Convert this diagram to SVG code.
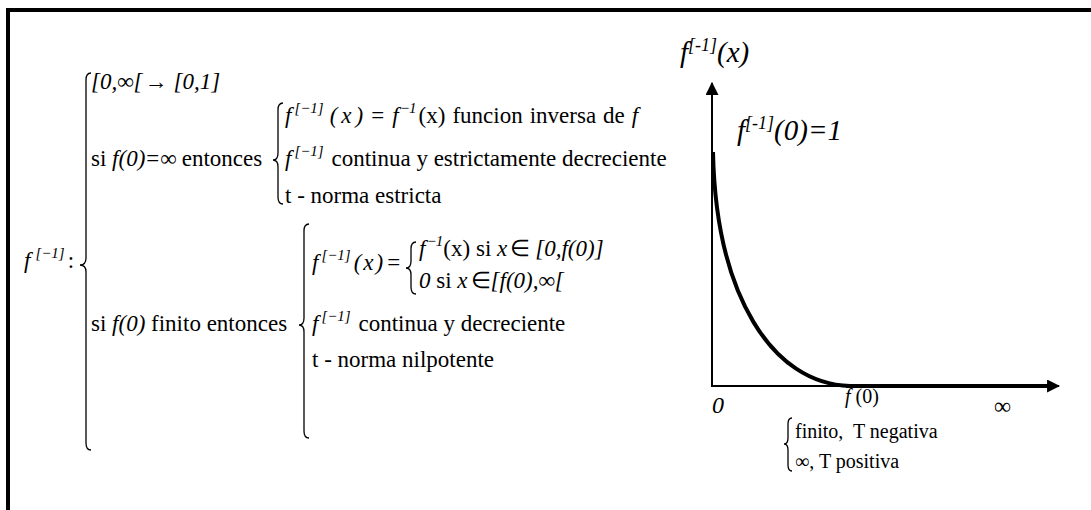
<svg xmlns="http://www.w3.org/2000/svg" width="1091" height="510" viewBox="0 0 1091 510">
<style>
text{font-family:"Liberation Serif","Times New Roman",serif;font-size:23px;fill:#000}
.i{font-style:italic}
.s{font-size:15px}
.br{fill:none;stroke:#000;stroke-width:1.3}
.ax{fill:none;stroke:#000;stroke-width:2}
.g{font-size:29px;font-style:italic}
.gs{font-size:18px}
.lb{font-size:20px}
</style>
<defs>
<marker id="ah" viewBox="0 0 12 12" refX="11" refY="6" markerWidth="13" markerHeight="13" markerUnits="userSpaceOnUse" orient="auto">
<path d="M0,0 L12,6 L0,12 Z" fill="#000"/>
</marker>
</defs>
<rect width="1091" height="510" fill="#fff"/>
<g id="frame" fill="#000">
<rect x="6" y="8" width="1085" height="4"/>
<rect x="6" y="8" width="4" height="502"/>
</g>
<g id="formula">
<path class="br" d="M91,73 Q86,73 86,80 L86,258 Q86,265 80,265 Q86,265 86,272 L86,443 Q86,450 91,450"/>
<text x="24" y="268"><tspan class="i">f</tspan><tspan class="s i" dx="5" dy="-10">[−1]</tspan><tspan dx="3" dy="10">:</tspan></text>
<text x="91" y="89" class="i">[0,∞[<tspan dx="2">→</tspan><tspan dx="6">[0,1]</tspan></text>
<text x="91" y="166">si <tspan class="i">f(0)</tspan><tspan dx="1">=</tspan><tspan dx="1">∞</tspan><tspan dx="5">entonces</tspan></text>
<path class="br" d="M283,103 Q278,103 278,110 L278,153 Q278,160 273,160 Q278,160 278,167 L278,197 Q278,204 283,204"/>
<text x="285" y="123"><tspan class="i">f</tspan><tspan class="s i" dx="3" dy="-10">[−1]</tspan><tspan class="i" dx="6" dy="10">(</tspan><tspan class="i" dx="4">x</tspan><tspan class="i" dx="4">)</tspan><tspan dx="8">=</tspan><tspan class="i" dx="8">f</tspan><tspan class="s" dx="2" dy="-10">−</tspan><tspan class="s i">1</tspan><tspan dx="2" dy="10">(x)</tspan><tspan dx="7">funcion</tspan><tspan dx="7">inversa</tspan><tspan dx="7">de</tspan><tspan class="i" dx="7">f</tspan></text>
<text x="285" y="166"><tspan class="i">f</tspan><tspan class="s i" dx="3" dy="-10">[−1]</tspan><tspan dx="2" dy="10"> continua y estrictamente decreciente</tspan></text>
<text x="285" y="203">t - norma estricta</text>
<text x="91" y="331">si <tspan class="i">f(0)</tspan> finito entonces</text>
<path class="br" d="M309,224 Q304,224 304,231 L304,318 Q304,325 299,325 Q304,325 304,332 L304,431 Q304,438 309,438"/>
<text x="312" y="270"><tspan class="i">f</tspan><tspan class="s i" dx="3" dy="-10">[−1]</tspan><tspan class="i" dx="3" dy="10">(</tspan><tspan class="i" dx="2">x</tspan><tspan class="i" dx="2">)</tspan><tspan dx="4">=</tspan></text>
<path class="br" d="M416,242 Q411,242 411,249 L411,261 Q411,268 406,268 Q411,268 411,275 L411,287 Q411,294 416,294"/>
<text x="419" y="256"><tspan class="i">f</tspan><tspan class="s" dx="2" dy="-10">−</tspan><tspan class="s i">1</tspan><tspan dy="10">(x) si </tspan><tspan class="i">x</tspan><tspan dx="3">∈</tspan><tspan class="i" dx="5">[0,f(0)]</tspan></text>
<text x="419" y="288"><tspan class="i">0</tspan> si <tspan class="i">x</tspan><tspan dx="3">∈</tspan><tspan class="i">[f(0),∞[</tspan></text>
<text x="312" y="331"><tspan class="i">f</tspan><tspan class="s i" dx="3" dy="-10">[−1]</tspan><tspan dx="2" dy="10"> continua y decreciente</tspan></text>
<text x="312" y="367">t - norma nilpotente</text>
</g>
<g id="connectors">
<line class="ax" x1="712" y1="386" x2="712" y2="83" marker-end="url(#ah)"/>
<line class="ax" x1="711" y1="386" x2="1059" y2="386" marker-end="url(#ah)"/>
<line x1="846" y1="386" x2="1048" y2="386" stroke="#000" stroke-width="4"/>
<path d="M713,152 C716,295 772,384 850,386" fill="none" stroke="#000" stroke-width="4"/>
</g>
<g id="labels">
<text x="680" y="62" class="g">f<tspan class="gs" dy="-11">[-1]</tspan><tspan dy="11">(x)</tspan></text>
<text x="737" y="140" class="g">f<tspan class="gs" dy="-11">[-1]</tspan><tspan dy="11">(0)=1</tspan></text>
<text x="712" y="413" class="i" style="font-size:24px">0</text>
<text x="845" y="403" class="lb"><tspan class="i">f</tspan> (0)</text>
<text x="994" y="414" style="font-size:24px">∞</text>
<path class="br" d="M792,418 Q788,418 788,424 L788,438 Q788,444 784,444 Q788,444 788,450 L788,465 Q788,471 792,471"/>
<text x="795" y="438" class="lb">finito,&#160; T negativa</text>
<text x="795" y="468" class="lb">∞, T positiva</text>
</g>
</svg>
